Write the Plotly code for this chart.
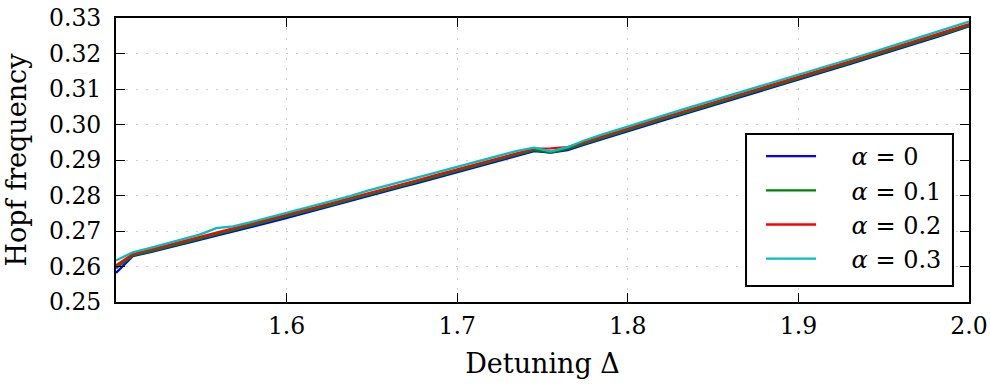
import numpy as np
import plotly.graph_objects as go

# Detuning grid (52 evenly spaced samples between 1.5 and 2.0)
detuning = np.linspace(1.5, 2.0, 52)

alpha_0 = [0.2582, 0.2629, 0.2640, 0.2651, 0.2663, 0.2675, 0.2687, 0.2698, 0.2710, 0.2722,
           0.2734, 0.2747, 0.2759, 0.2772, 0.2785, 0.2797, 0.2810, 0.2823, 0.2835, 0.2848,
           0.2861, 0.2874, 0.2887, 0.2899, 0.2912, 0.2925, 0.2921, 0.2928, 0.2943, 0.2958,
           0.2973, 0.2988, 0.3002, 0.3016, 0.3030, 0.3044, 0.3058, 0.3072, 0.3086, 0.3100,
           0.3114, 0.3128, 0.3143, 0.3157, 0.3172, 0.3187, 0.3201, 0.3216, 0.3231, 0.3245,
           0.3261, 0.3277]

alpha_01 = [0.2595, 0.2631, 0.2642, 0.2654, 0.2666, 0.2678, 0.2690, 0.2701, 0.2713, 0.2725,
            0.2737, 0.2750, 0.2762, 0.2775, 0.2788, 0.2800, 0.2813, 0.2826, 0.2838, 0.2851,
            0.2864, 0.2877, 0.2890, 0.2902, 0.2915, 0.2928, 0.2921, 0.2931, 0.2946, 0.2961,
            0.2976, 0.2991, 0.3005, 0.3019, 0.3033, 0.3047, 0.3061, 0.3075, 0.3089, 0.3103,
            0.3117, 0.3131, 0.3146, 0.3160, 0.3175, 0.3190, 0.3204, 0.3219, 0.3234, 0.3248,
            0.3263, 0.3278]

alpha_02 = [0.2603, 0.2635, 0.2647, 0.2659, 0.2671, 0.2683, 0.2695, 0.2706, 0.2718, 0.2730,
            0.2742, 0.2755, 0.2767, 0.2780, 0.2793, 0.2805, 0.2818, 0.2831, 0.2843, 0.2856,
            0.2869, 0.2882, 0.2895, 0.2907, 0.2920, 0.2932, 0.2933, 0.2936, 0.2951, 0.2966,
            0.2981, 0.2996, 0.3010, 0.3024, 0.3038, 0.3052, 0.3066, 0.3080, 0.3094, 0.3108,
            0.3122, 0.3136, 0.3151, 0.3165, 0.3180, 0.3195, 0.3209, 0.3224, 0.3239, 0.3253,
            0.3268, 0.3283]

alpha_03 = [0.2617, 0.2640, 0.2652, 0.2664, 0.2677, 0.2690, 0.2708, 0.2713, 0.2724, 0.2736,
            0.2749, 0.2761, 0.2773, 0.2786, 0.2798, 0.2813, 0.2825, 0.2838, 0.2850, 0.2863,
            0.2876, 0.2889, 0.2902, 0.2914, 0.2926, 0.2935, 0.2924, 0.2936, 0.2955, 0.2971,
            0.2986, 0.3001, 0.3016, 0.3030, 0.3044, 0.3058, 0.3072, 0.3086, 0.3100, 0.3114,
            0.3128, 0.3142, 0.3157, 0.3171, 0.3186, 0.3200, 0.3215, 0.3230, 0.3245, 0.3259,
            0.3274, 0.3290]

series_names = ["<i>α</i> = 0", "<i>α</i> = 0.1", "<i>α</i> = 0.2", "<i>α</i> = 0.3"]
series_colors = ["#0000ff", "#008000", "#ff0000", "#00bfbf"]
series_values = [alpha_0, alpha_01, alpha_02, alpha_03]

x_ticks = [1.6, 1.7, 1.8, 1.9, 2.0]
x_tick_labels = ["1.6", "1.7", "1.8", "1.9", "2.0"]
y_ticks = [0.25, 0.26, 0.27, 0.28, 0.29, 0.30, 0.31, 0.32, 0.33]
y_tick_labels = ["0.25", "0.26", "0.27", "0.28", "0.29", "0.30", "0.31", "0.32", "0.33"]

FONT = "DejaVu Serif"
NB = "\u00a0"

fig = go.Figure()
for i, (name, col, vals) in enumerate(zip(series_names, series_colors, series_values)):
    fig.add_trace(go.Scatter(
        x=detuning, y=vals, mode="lines", name=NB * 4 + name,
        line=dict(color=col, width=2.3), legendgroup=f"g{i}",
    ))

axis_common = dict(
    showline=True, linecolor="black", linewidth=2, mirror="ticks",
    ticks="inside", ticklen=9, tickwidth=1.3, tickcolor="black",
    showgrid=True, gridcolor="#cfcfcf", griddash="2px,8px", gridwidth=1.3,
    zeroline=False, automargin=False, ticklabeloverflow="allow",
    tickfont=dict(family=FONT, size=23.5, color="black"),
)

fig.update_layout(
    width=990, height=387,
    margin=dict(l=116, r=21, t=18, b=85, autoexpand=False),
    paper_bgcolor="white", plot_bgcolor="white",
    font=dict(family=FONT, size=23, color="black"),
    xaxis=dict(range=[1.5, 2.0], tickvals=x_ticks, ticktext=x_tick_labels,
               ticklabelstandoff=2,
               title=dict(text="Detuning Δ", font=dict(family=FONT, size=27), standoff=15),
               **axis_common),
    yaxis=dict(range=[0.25, 0.33], tickvals=y_ticks, ticktext=y_tick_labels,
               ticklabelstandoff=8,
               title=dict(text="Hopf frequency", font=dict(family=FONT, size=27), standoff=15),
               **axis_common),
    legend=dict(x=0.7562, y=0.5915, xanchor="left", yanchor="top",
                borderwidth=0, bgcolor="rgba(0,0,0,0)",
                font=dict(family=FONT, size=24), tracegroupgap=0,
                itemwidth=50),
    shapes=[dict(type="rect", xref="paper", yref="paper",
                 x0=0.7386, x1=0.9812, y0=0.0563, y1=0.5915,
                 line=dict(color="black", width=2), fillcolor="white", layer="above")],
    showlegend=True,
)

fig.write_html(
    "out.html",
    config={"displayModeBar": False},
    post_script="document.body.style.margin='0';document.body.style.overflow='hidden';",
)
